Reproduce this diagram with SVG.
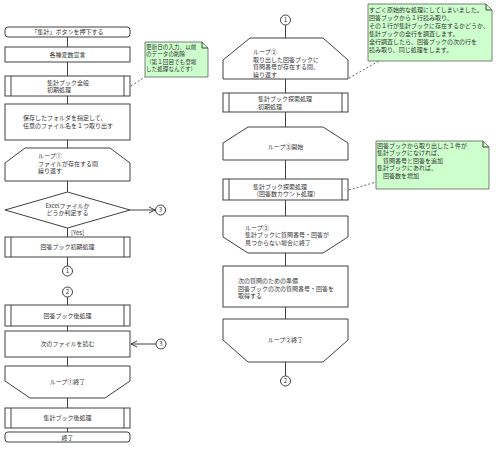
<svg xmlns="http://www.w3.org/2000/svg" width="500" height="452" viewBox="0 0 500 452">
<style>
.s{fill:#fff;stroke:#404040;stroke-width:1}
.ln{fill:none;stroke:#404040;stroke-width:1}
.dash{fill:none;stroke:#606060;stroke-width:1;stroke-dasharray:2,2}
.note{fill:#ccffcc;stroke:#606060;stroke-width:0.8}
text{font-family:"Noto Sans CJK JP","Liberation Sans",sans-serif;font-size:6px;fill:#333}
.c{text-anchor:middle}
.n1{font-size:5.6px}
</style>
<defs>
<marker id="arr" markerWidth="8" markerHeight="8" refX="7" refY="4" orient="auto" markerUnits="userSpaceOnUse">
<path d="M1,1 L7,4 L1,7" fill="none" stroke="#404040" stroke-width="1"/>
</marker>
</defs>
<rect width="500" height="452" fill="#fff"/>
<g id="connectors">
<path class="ln" d="M67.5,37 V47 M67.5,62 V76 M67.5,96 V104 M67.5,140 V148 M67.5,181 V192 M67.5,228 V237 M67.5,257 V266 M67.5,297 V305 M67.5,326 V331 M67.5,357 V366 M67.5,398 V408 M67.5,428 V432"/>
<path class="ln" d="M130,210 H155" marker-end="url(#arr)"/>
<path class="ln" d="M156,344 H131" marker-end="url(#arr)"/>
<path class="ln" d="M285.5,25 V38 M285.5,79 V93 M285.5,112 V127 M285.5,160 V179 M285.5,200 V216 M285.5,253 V266 M285.5,307 V319 M285.5,362 V376"/>
<path class="dash" d="M131,86 L145,77"/>
<path class="dash" d="M349,78 L379,61"/>
<path class="dash" d="M349,190 L376,182"/>
</g>
<g id="start">
<rect class="s" x="5" y="27" width="125" height="10" rx="3"/>
<text class="c" x="67.5" y="34.3">「集計」ボタンを押下する</text>
</g>
<g id="vars">
<rect class="s" x="5" y="47" width="125" height="15"/>
<text class="c" x="67.5" y="56.5">各種変数宣言</text>
</g>
<g id="init1">
<rect class="s" x="5" y="76" width="125" height="20"/>
<path class="ln" d="M11,76 V96 M124,76 V96"/>
<text x="47" y="84.5">集計ブック全般</text>
<text x="47" y="92">初期処理</text>
</g>
<g id="pick">
<rect class="s" x="5" y="104" width="125" height="36"/>
<text x="23" y="120">保存したフォルダを指定して、</text>
<text x="23" y="128">任意のファイル名を１つ取り出す</text>
</g>
<g id="loop1">
<path class="s" d="M25,148 H110 L130,163 V181 H5 V163 Z"/>
<text x="38" y="158">ループ①</text>
<text x="38" y="165.5">ファイルが存在する間</text>
<text x="38" y="173">繰り返す</text>
</g>
<g id="dec">
<path class="s" d="M67.5,192 L130,210 L67.5,228 L5,210 Z"/>
<text class="c" x="67.5" y="207.5">Excelファイルか</text>
<text class="c" x="67.5" y="215">どうか判定する</text>
<text x="71" y="235">[Yes]</text>
</g>
<g id="c3a">
<circle class="s" cx="160.5" cy="210" r="5"/>
<text class="c" x="160.5" y="212.2">3</text>
</g>
<g id="ansinit">
<rect class="s" x="5" y="237" width="125" height="20"/>
<path class="ln" d="M11,237 V257 M124,237 V257"/>
<text class="c" x="67.5" y="249">回答ブック初期処理</text>
</g>
<g id="c1a">
<circle class="s" cx="67.5" cy="271" r="5"/>
<text class="c" x="67.5" y="273.2">1</text>
</g>
<g id="c2a">
<circle class="s" cx="67.5" cy="292" r="5"/>
<text class="c" x="67.5" y="294.2">2</text>
</g>
<g id="anspost">
<rect class="s" x="5" y="305" width="125" height="21"/>
<path class="ln" d="M11,305 V326 M124,305 V326"/>
<text class="c" x="67.5" y="317.5">回答ブック後処理</text>
</g>
<g id="next">
<rect class="s" x="5" y="331" width="125" height="26"/>
<text class="c" x="67.5" y="346">次のファイルを読む</text>
</g>
<g id="c3b">
<circle class="s" cx="161" cy="344" r="5"/>
<text class="c" x="161" y="346.2">3</text>
</g>
<g id="loop1end">
<path class="s" d="M5,366 H130 V381 L105,398 H30 L5,381 Z"/>
<text class="c" x="67.5" y="384">ループ①終了</text>
</g>
<g id="sumpost">
<rect class="s" x="5" y="408" width="125" height="20"/>
<path class="ln" d="M11,408 V428 M124,408 V428"/>
<text class="c" x="67.5" y="420">集計ブック後処理</text>
</g>
<g id="end">
<rect class="s" x="5" y="432" width="125" height="10" rx="3"/>
<text class="c" x="67.5" y="439.5">終了</text>
</g>
<g id="note1">
<path class="note" d="M145,42 H202 L208,48 V77 H145 Z"/>
<path class="ln" d="M202,42 V48 H208" stroke-width="0.8"/>
<text class="n1" x="146" y="48.5">更新日の入力、以前</text>
<text class="n1" x="146" y="56">のデータの削除</text>
<text class="n1" x="146" y="63.5">（第１回目でも登場</text>
<text class="n1" x="146" y="71">した処理なんです）</text>
</g>
<g id="c1b">
<circle class="s" cx="285.5" cy="20" r="5"/>
<text class="c" x="285.5" y="22.2">1</text>
</g>
<g id="loop2">
<path class="s" d="M250,38 H323 L348,60 V79 H223 V60 Z"/>
<text x="253" y="54">ループ②</text>
<text x="253" y="61.5">取り出した回答ブックに</text>
<text x="253" y="69">質問番号が存在する間、</text>
<text x="253" y="76.5">繰り返す</text>
</g>
<g id="search1">
<rect class="s" x="223" y="93" width="125" height="19"/>
<path class="ln" d="M229,93 V112 M342,93 V112"/>
<text x="258" y="101">集計ブック探索処理</text>
<text x="258" y="108.5">初期処理</text>
</g>
<g id="loop3">
<path class="s" d="M248,127 H323 L348,143 V160 H223 V143 Z"/>
<text class="c" x="285.5" y="149">ループ③開始</text>
</g>
<g id="search2">
<rect class="s" x="223" y="179" width="125" height="21"/>
<path class="ln" d="M229,179 V200 M342,179 V200"/>
<text x="253" y="188.5">集計ブック探索処理</text>
<text x="253" y="196">（回答数カウント処理）</text>
</g>
<g id="loop3end">
<path class="s" d="M223,216 H348 V237 L323,253 H248 L223,237 Z"/>
<text x="245" y="229.5">ループ③</text>
<text x="245" y="237">集計ブックに質問番号・回答が</text>
<text x="245" y="244.5">見つからない場合に終了</text>
</g>
<g id="prep">
<rect class="s" x="223" y="266" width="125" height="41"/>
<text x="238" y="283">次の質問のための準備</text>
<text x="238" y="290.5">回答ブックの次の質問番号・回答を</text>
<text x="238" y="298">取得する</text>
</g>
<g id="loop2end">
<path class="s" d="M223,319 H348 V340 L323,362 H248 L223,340 Z"/>
<text class="c" x="285.5" y="342">ループ②終了</text>
</g>
<g id="c2b">
<circle class="s" cx="285.5" cy="381" r="5"/>
<text class="c" x="285.5" y="383.2">2</text>
</g>
<g id="note2">
<path class="note" d="M368,4 H486 L492,10 V61 H368 Z"/>
<path class="ln" d="M486,4 V10 H492" stroke-width="0.8"/>
<text x="369" y="11.5">すごく原始的な処理にしてしまいました。</text>
<text x="369" y="19.5">回答ブックから１行読み取り、</text>
<text x="369" y="27.5">その１行が集計ブックに存在するかどうか、</text>
<text x="369" y="35.5">集計ブックの全行を調査します。</text>
<text x="369" y="43.5">全行調査したら、回答ブックの次の行を</text>
<text x="369" y="51.5">読み取り、同じ処理をします。</text>
</g>
<g id="note3">
<path class="note" d="M376,141 H483 L489,147 V189 H376 Z"/>
<path class="ln" d="M483,141 V147 H489" stroke-width="0.8"/>
<text x="377" y="147.5">回答ブックから取り出した１件が</text>
<text x="377" y="155">集計ブックになければ、</text>
<text x="377" y="162.5">　質問番号と回答を追加</text>
<text x="377" y="170">集計ブックにあれば、</text>
<text x="377" y="177.5">　回答数を増加</text>
</g>
</svg>
